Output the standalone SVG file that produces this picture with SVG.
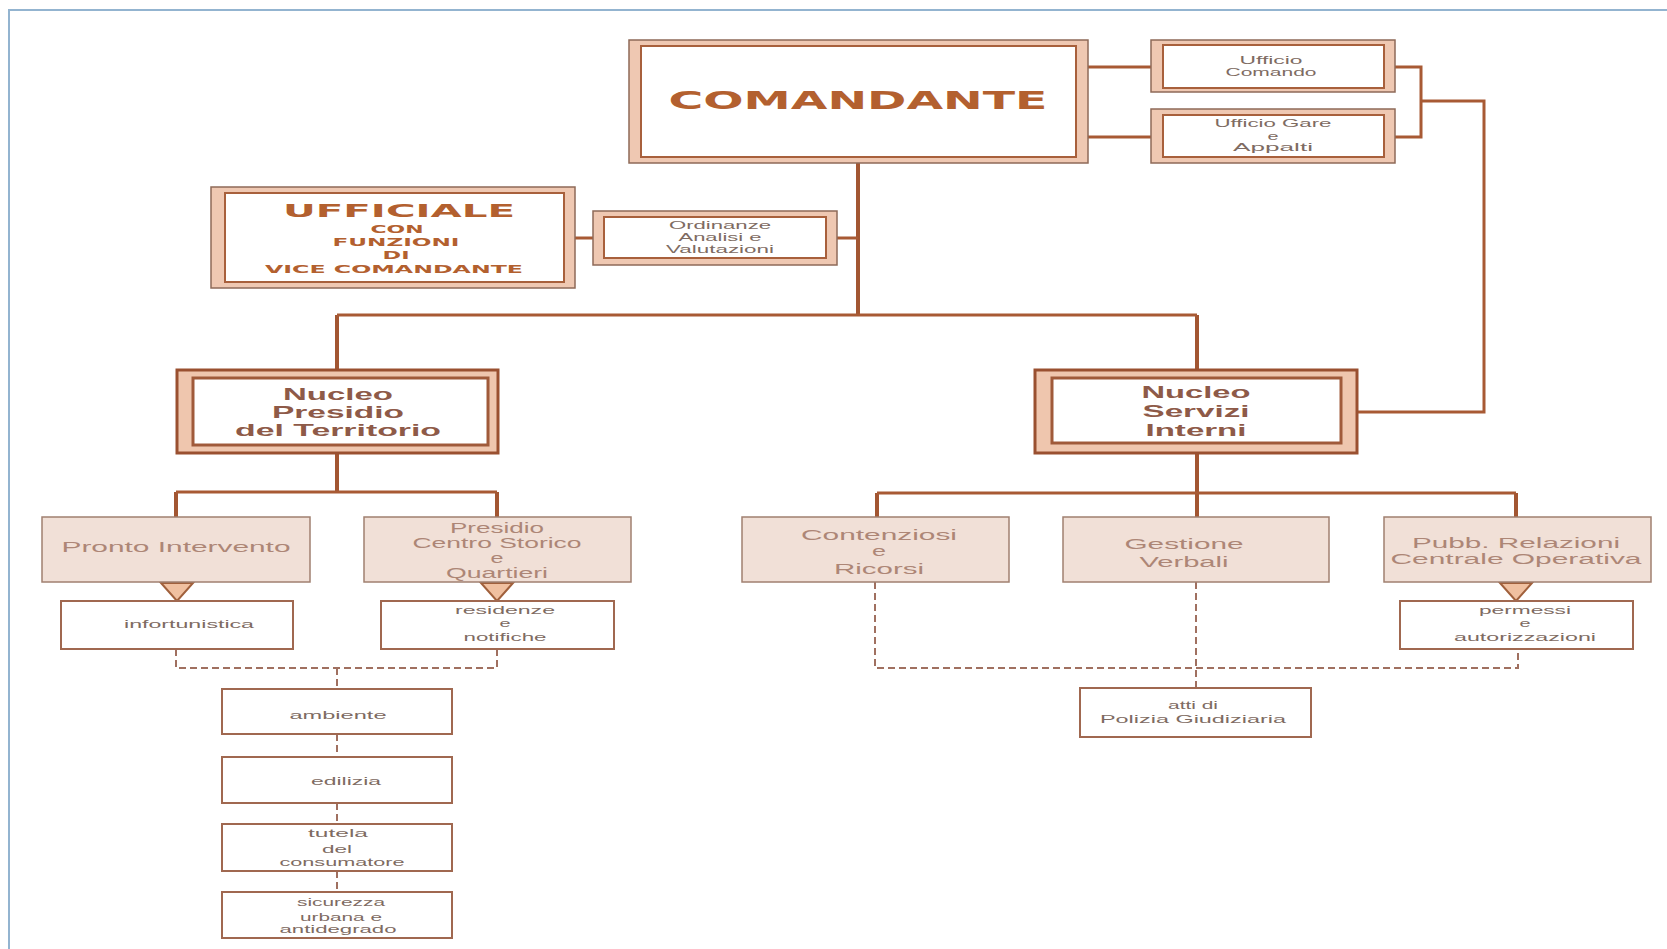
<svg xmlns="http://www.w3.org/2000/svg" width="1667" height="949" viewBox="0 0 1667 949">
<style>
text{font-family:"Liberation Sans",Arial,sans-serif;text-anchor:middle}
.big{font-family:"DejaVu Sans","Liberation Sans",sans-serif;font-weight:bold;fill:#b3602f}
.nuc{font-family:"Liberation Sans",Arial,sans-serif;font-weight:bold;fill:#8e5a48;font-size:17px}
.sm{fill:#7e6b62;font-size:11.5px}
.md{fill:#ad8676;font-size:14px}
.ob{fill:#efc8b2;stroke:#8e6a58;stroke-width:1.5}
.obn{fill:#efc6ae;stroke:#9a5030;stroke-width:3}
.ib{fill:#fff;stroke:#a8603c;stroke-width:2}
.ibn{fill:#fff;stroke:#a05a3a;stroke-width:3}
.tb{fill:#f1e0d7;stroke:#a08070;stroke-width:1.5}
.wb{fill:#fff;stroke:#a06850;stroke-width:2}
.ln{fill:none;stroke:#a85a34;stroke-width:3}
.lv{fill:none;stroke:#a25632;stroke-width:4}
.dl{fill:none;stroke:#a07060;stroke-width:2;stroke-dasharray:7 4}
.tri{fill:#f0c0a0;stroke:#a0603c;stroke-width:2}
</style>
<rect width="1667" height="949" fill="#fff"/>
<path d="M9 949 V10 H1667" fill="none" stroke="#93b4d0" stroke-width="2"/>

<g id="connectors">
<path class="ln" d="M1088 67 H1151 M1088 137 H1151"/>
<path class="ln" d="M1395 67 H1421 V137 H1395 M1421 101 H1484 V412 H1357"/>
<path class="lv" d="M858 163 V315 M337 315 V371 M1197 315 V371"/>
<path class="ln" d="M337 315 H1197"/>
<path class="ln" d="M575 238 H593 M837 238 H858"/>
<path class="lv" d="M337 453 V492 M176 492 V517 M497 492 V517"/>
<path class="ln" d="M176 492 H497"/>
<path class="lv" d="M1197 453 V493 M877 493 V517 M1197 493 V517 M1516 493 V517"/>
<path class="ln" d="M877 493 H1516"/>
<path class="dl" d="M176 649 V668 H497 V649 M337 668 V689 M337 734 V757 M337 803 V824 M337 871 V892"/>
<path class="dl" d="M875 582 V668 H1518 V649 M1196 582 V688"/>
<polygon class="tri" points="161,583 193,583 177,601"/>
<polygon class="tri" points="481,583 513,583 497,601"/>
<polygon class="tri" points="1500,583 1532,583 1516,601"/>
</g>

<g id="comandante">
<rect class="ob" x="629" y="40" width="459" height="123"/>
<rect class="ib" x="641" y="46" width="435" height="111"/>
<text class="big" x="858" y="109" font-size="24" textLength="379" lengthAdjust="spacingAndGlyphs">COMANDANTE</text>
</g>

<g id="ufficio-comando">
<rect class="ob" x="1151" y="40" width="244" height="52"/>
<rect class="ib" x="1163" y="45" width="221" height="43"/>
<text class="sm" x="1271" y="64" textLength="63" lengthAdjust="spacingAndGlyphs">Ufficio</text>
<text class="sm" x="1271" y="76" textLength="91" lengthAdjust="spacingAndGlyphs">Comando</text>
</g>

<g id="ufficio-gare">
<rect class="ob" x="1151" y="109" width="244" height="54"/>
<rect class="ib" x="1163" y="115" width="221" height="42"/>
<text class="sm" x="1273" y="127" textLength="117" lengthAdjust="spacingAndGlyphs">Ufficio Gare</text>
<text class="sm" x="1273" y="140" textLength="11" lengthAdjust="spacingAndGlyphs">e</text>
<text class="sm" x="1273" y="151" textLength="80" lengthAdjust="spacingAndGlyphs">Appalti</text>
</g>

<g id="ufficiale">
<rect class="ob" x="211" y="187" width="364" height="101"/>
<rect class="ib" x="225" y="193" width="339" height="89"/>
<text class="big" x="399" y="217" font-size="18" textLength="232" lengthAdjust="spacingAndGlyphs">UFFICIALE</text>
<text class="big" x="397" y="233" font-size="10" textLength="53" lengthAdjust="spacingAndGlyphs">CON</text>
<text class="big" x="396" y="246" font-size="10" textLength="127" lengthAdjust="spacingAndGlyphs">FUNZIONI</text>
<text class="big" x="396" y="259" font-size="10" textLength="27" lengthAdjust="spacingAndGlyphs">DI</text>
<text class="big" x="394" y="273" font-size="10.5" textLength="258" lengthAdjust="spacingAndGlyphs">VICE COMANDANTE</text>
</g>

<g id="ordinanze">
<rect class="ob" x="593" y="211" width="244" height="54"/>
<rect class="ib" x="604" y="217" width="222" height="41"/>
<text class="sm" x="720" y="229" textLength="102" lengthAdjust="spacingAndGlyphs">Ordinanze</text>
<text class="sm" x="720" y="241" textLength="83" lengthAdjust="spacingAndGlyphs">Analisi e</text>
<text class="sm" x="720" y="253" textLength="108" lengthAdjust="spacingAndGlyphs">Valutazioni</text>
</g>

<g id="nucleo-presidio">
<rect class="obn" x="177" y="370" width="321" height="83"/>
<rect class="ibn" x="193" y="378" width="295" height="67"/>
<text class="nuc" x="338" y="400" textLength="110" lengthAdjust="spacingAndGlyphs">Nucleo</text>
<text class="nuc" x="338" y="418" textLength="132" lengthAdjust="spacingAndGlyphs">Presidio</text>
<text class="nuc" x="338" y="436" textLength="206" lengthAdjust="spacingAndGlyphs">del Territorio</text>
</g>

<g id="nucleo-servizi">
<rect class="obn" x="1035" y="370" width="322" height="83"/>
<rect class="ibn" x="1052" y="378" width="289" height="65"/>
<text class="nuc" x="1196" y="398" textLength="109" lengthAdjust="spacingAndGlyphs">Nucleo</text>
<text class="nuc" x="1196" y="417" textLength="107" lengthAdjust="spacingAndGlyphs">Servizi</text>
<text class="nuc" x="1196" y="436" textLength="101" lengthAdjust="spacingAndGlyphs">Interni</text>
</g>

<g id="pronto-intervento">
<rect class="tb" x="42" y="517" width="268" height="65"/>
<text class="md" x="176" y="552" font-size="15" textLength="229" lengthAdjust="spacingAndGlyphs">Pronto Intervento</text>
</g>

<g id="presidio-centro">
<rect class="tb" x="364" y="517" width="267" height="65"/>
<text class="md" x="497" y="533" textLength="94" lengthAdjust="spacingAndGlyphs">Presidio</text>
<text class="md" x="497" y="548" textLength="169" lengthAdjust="spacingAndGlyphs">Centro Storico</text>
<text class="md" x="497" y="563" textLength="13" lengthAdjust="spacingAndGlyphs">e</text>
<text class="md" x="497" y="578" textLength="102" lengthAdjust="spacingAndGlyphs">Quartieri</text>
</g>

<g id="contenziosi">
<rect class="tb" x="742" y="517" width="267" height="65"/>
<text class="md" x="879" y="540" font-size="15" textLength="156" lengthAdjust="spacingAndGlyphs">Contenziosi</text>
<text class="md" x="879" y="556" font-size="15" textLength="14" lengthAdjust="spacingAndGlyphs">e</text>
<text class="md" x="879" y="574" font-size="15" textLength="90" lengthAdjust="spacingAndGlyphs">Ricorsi</text>
</g>

<g id="gestione-verbali">
<rect class="tb" x="1063" y="517" width="266" height="65"/>
<text class="md" x="1184" y="549" font-size="15" textLength="119" lengthAdjust="spacingAndGlyphs">Gestione</text>
<text class="md" x="1184" y="567" font-size="15" textLength="89" lengthAdjust="spacingAndGlyphs">Verbali</text>
</g>

<g id="pubb-relazioni">
<rect class="tb" x="1384" y="517" width="267" height="65"/>
<text class="md" x="1516" y="548" font-size="16" textLength="208" lengthAdjust="spacingAndGlyphs">Pubb. Relazioni</text>
<text class="md" x="1516" y="564" font-size="16" textLength="251" lengthAdjust="spacingAndGlyphs">Centrale Operativa</text>
</g>

<g id="infortunistica">
<rect class="wb" x="61" y="601" width="232" height="48"/>
<text class="sm" x="189" y="628" textLength="130" lengthAdjust="spacingAndGlyphs">infortunistica</text>
</g>

<g id="residenze">
<rect class="wb" x="381" y="601" width="233" height="48"/>
<text class="sm" x="505" y="614" textLength="100" lengthAdjust="spacingAndGlyphs">residenze</text>
<text class="sm" x="505" y="627" textLength="11" lengthAdjust="spacingAndGlyphs">e</text>
<text class="sm" x="505" y="641" textLength="83" lengthAdjust="spacingAndGlyphs">notifiche</text>
</g>

<g id="permessi">
<rect class="wb" x="1400" y="601" width="233" height="48"/>
<text class="sm" x="1525" y="614" textLength="92" lengthAdjust="spacingAndGlyphs">permessi</text>
<text class="sm" x="1525" y="627" textLength="11" lengthAdjust="spacingAndGlyphs">e</text>
<text class="sm" x="1525" y="641" textLength="142" lengthAdjust="spacingAndGlyphs">autorizzazioni</text>
</g>

<g id="atti">
<rect class="wb" x="1080" y="688" width="231" height="49"/>
<text class="sm" x="1193" y="709" textLength="50" lengthAdjust="spacingAndGlyphs">atti di</text>
<text class="sm" x="1193" y="723" textLength="186" lengthAdjust="spacingAndGlyphs">Polizia Giudiziaria</text>
</g>

<g id="ambiente">
<rect class="wb" x="222" y="689" width="230" height="45"/>
<text class="sm" x="338" y="719" textLength="97" lengthAdjust="spacingAndGlyphs">ambiente</text>
</g>

<g id="edilizia">
<rect class="wb" x="222" y="757" width="230" height="46"/>
<text class="sm" x="346" y="785" textLength="70" lengthAdjust="spacingAndGlyphs">edilizia</text>
</g>

<g id="tutela">
<rect class="wb" x="222" y="824" width="230" height="47"/>
<text class="sm" x="338" y="837" textLength="60" lengthAdjust="spacingAndGlyphs">tutela</text>
<text class="sm" x="337" y="853" textLength="30" lengthAdjust="spacingAndGlyphs">del</text>
<text class="sm" x="342" y="866" textLength="125" lengthAdjust="spacingAndGlyphs">consumatore</text>
</g>

<g id="sicurezza">
<rect class="wb" x="222" y="892" width="230" height="46"/>
<text class="sm" x="341" y="906" textLength="88" lengthAdjust="spacingAndGlyphs">sicurezza</text>
<text class="sm" x="341" y="921" textLength="82" lengthAdjust="spacingAndGlyphs">urbana e</text>
<text class="sm" x="338" y="933" textLength="117" lengthAdjust="spacingAndGlyphs">antidegrado</text>
</g>
</svg>
